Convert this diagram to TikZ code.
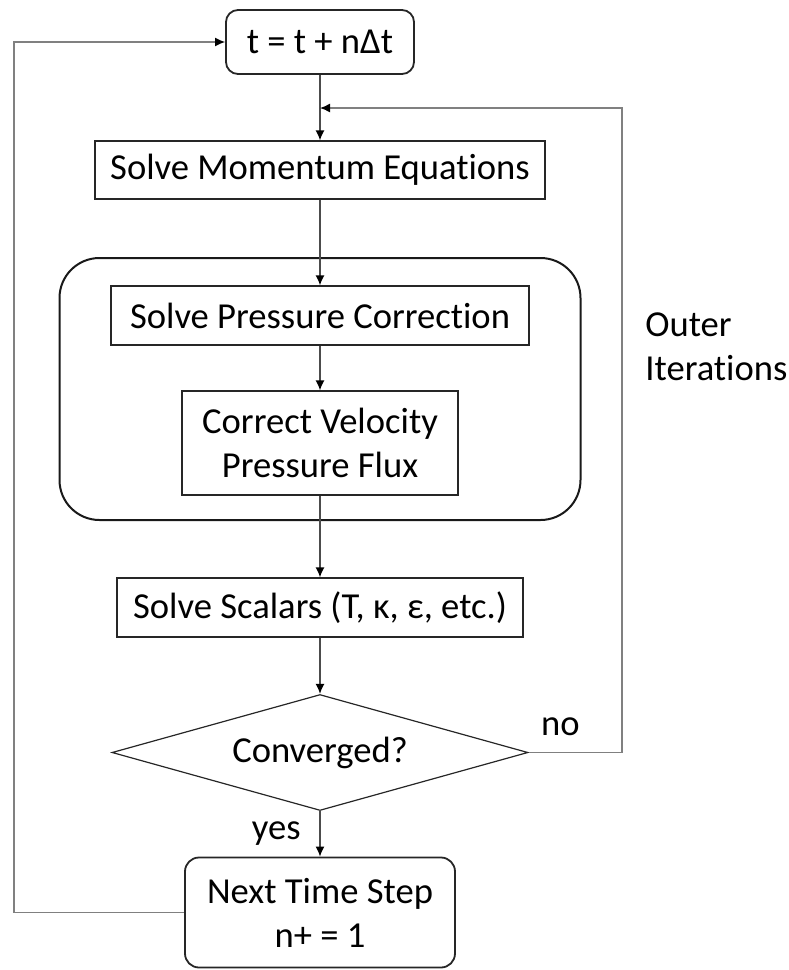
\documentclass[tikz,border=0pt]{standalone}
\usepackage{fontspec}
\setmainfont[Ligatures=NoCommon]{Carlito}
\usetikzlibrary{shapes.geometric,arrows.meta}
\begin{document}
\begin{tikzpicture}[x=0.5pt,y=-0.5pt,font=\fontsize{18.3}{22}\selectfont,
  box/.style={draw=black!85,line width=0.6pt,inner sep=0pt,align=center},
  roundbox/.style={box,rounded corners=6pt,line width=0.9pt},
  flow/.style={draw=black!70,line width=0.7pt,-{Latex[length=5pt,width=4.5pt,color=black]}},
  loop/.style={flow,draw=black!50}]
\useasboundingbox (0,0) rectangle (788,970);
\node[draw=black!90,line width=1pt,rounded corners=20pt,minimum width=260.5pt,minimum height=131pt] (simple) at (320,389) {};
\node[roundbox,minimum width=94pt,minimum height=32pt] (tstep) at (320,42) {t = t + nΔt};
\node[box,minimum width=225pt,minimum height=29pt] (mom) at (320,170) {Solve Momentum Equations};
\node[box,minimum width=209pt,minimum height=29.5pt] (press) at (320,315.5) {Solve Pressure Correction};
\node[box,minimum width=138pt,minimum height=52pt] (corr) at (320,443) {Correct Velocity\\Pressure Flux};
\node[box,minimum width=203pt,minimum height=29.5pt] (scal) at (320,607.5) {Solve Scalars (T, κ, ε, etc.)};
\node[box,diamond,aspect=3.6,minimum width=208pt,minimum height=58pt] (conv) at (320,752.5) {Converged?};
\node[roundbox,rounded corners=7pt,minimum width=135pt,minimum height=55pt] (next) at (320,912.5) {Next Time Step\\n+ = 1};
\node[align=left,anchor=west,inner sep=0pt] (outer) at (645,347) {Outer\\Iterations};
\coordinate (back) at (320,108);
\coordinate (rt) at (622,108);
\coordinate (lf) at (14,42);
\draw[flow] (tstep) -- (mom);
\draw[flow] (mom) -- (press);
\draw[flow] (press) -- (corr);
\draw[flow] (corr) -- (scal);
\draw[flow] (scal) -- (conv);
\draw[flow] (conv) -- node[left,xshift=-6pt]{yes} (next);
\draw[loop] (conv.east) -| node[pos=0.17,above,inner sep=8pt]{no} (rt) -- (back);
\draw[loop] (next) -| (lf) -- (tstep);
\end{tikzpicture}
\end{document}
